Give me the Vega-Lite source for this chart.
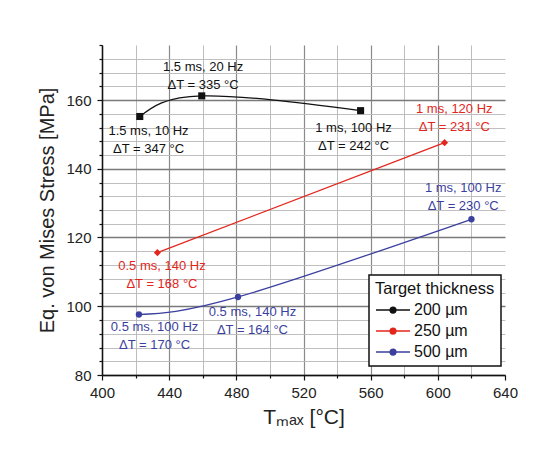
{
  "$schema": "https://vega.github.io/schema/vega-lite/v6.json",
  "autosize": {"type": "none"},
  "padding": {"left": 102, "top": 45, "right": 29, "bottom": 79},
  "width": 403,
  "height": 330,
  "background": "white",
  "config": {
    "font": "Liberation Sans",
    "view": {"stroke": null},
    "legend": {"strokeWidth": 1.5}
  },
  "datasets": {
    "points": [
      {"thickness": "200 µm", "Tmax": 422.5, "stress": 155.2},
      {"thickness": "200 µm", "Tmax": 459.4, "stress": 161.2},
      {"thickness": "200 µm", "Tmax": 554.0, "stress": 156.9},
      {"thickness": "250 µm", "Tmax": 433.0, "stress": 115.6},
      {"thickness": "250 µm", "Tmax": 604.0, "stress": 147.6},
      {"thickness": "500 µm", "Tmax": 422.0, "stress": 97.6},
      {"thickness": "500 µm", "Tmax": 481.0, "stress": 102.7},
      {"thickness": "500 µm", "Tmax": 620.0, "stress": 125.3}
    ],
    "notes": [
      {"thickness": "200 µm", "Tmax": 460.2, "stress": 167.1, "note": "1.5 ms, 20 Hz\nΔT = 335 °C"},
      {"thickness": "200 µm", "Tmax": 427.7, "stress": 148.4, "note": "1.5 ms, 10 Hz\nΔT = 347 °C"},
      {"thickness": "200 µm", "Tmax": 549.8, "stress": 149.2, "note": "1 ms, 100 Hz\nΔT = 242 °C"},
      {"thickness": "250 µm", "Tmax": 609.8, "stress": 154.9, "note": "1 ms, 120 Hz\nΔT = 231 °C"},
      {"thickness": "250 µm", "Tmax": 435.7, "stress": 109.0, "note": "0.5 ms, 140 Hz\nΔT = 168 °C"},
      {"thickness": "500 µm", "Tmax": 615.1, "stress": 131.9, "note": "1 ms, 100 Hz\nΔT = 230 °C"},
      {"thickness": "500 µm", "Tmax": 431.3, "stress": 91.3, "note": "0.5 ms, 100 Hz\nΔT = 170 °C"},
      {"thickness": "500 µm", "Tmax": 489.6, "stress": 95.7, "note": "0.5 ms, 140 Hz\nΔT = 164 °C"}
    ]
  },
  "encoding": {
    "x": {
      "field": "Tmax", "type": "quantitative",
      "scale": {"domain": [400, 640], "nice": false, "zero": false},
      "axis": {
        "title": "Tₘₐₓ [°C]",
        "values": [400, 420, 440, 460, 480, 500, 520, 540, 560, 580, 600, 620, 640],
        "labelExpr": "datum.value % 40 === 0 ? datum.label : ''",
        "grid": true,
        "gridColor": {"condition": {"test": "datum.value % 40 === 0", "value": "#8a8a8a"}, "value": "#b5b5b5"},
        "gridWidth": {"condition": {"test": "datum.value % 40 === 0", "value": 1.2}, "value": 0.9},
        "gridOpacity": {"condition": {"test": "datum.value === 640", "value": 0}, "value": 1},
        "tickSize": {"condition": {"test": "datum.value % 40 === 0", "value": 5}, "value": 3},
        "tickColor": "#111", "tickWidth": 1.2,
        "domainColor": "#111", "domainWidth": 1.5,
        "labelFontSize": 15, "labelColor": "#222", "labelPadding": 5,
        "labelOverlap": false, "labelFlush": false,
        "titleFontSize": 21, "titleFontWeight": "normal", "titleColor": "#222", "titlePadding": 6
      }
    },
    "y": {
      "field": "stress", "type": "quantitative",
      "scale": {"domain": [80, 176], "nice": false, "zero": false},
      "axis": {
        "title": "Eq. von Mises Stress [MPa]",
        "values": [80, 84, 88, 92, 96, 100, 104, 108, 112, 116, 120, 124, 128, 132, 136, 140, 144, 148, 152, 156, 160, 164, 168, 172, 176],
        "labelExpr": "datum.value % 20 === 0 ? datum.label : ''",
        "grid": true,
        "gridColor": {"condition": {"test": "datum.value % 20 === 0", "value": "#7a7a7a"}, "value": "#b8b8b8"},
        "gridWidth": {"condition": {"test": "datum.value % 20 === 0", "value": 1.6}, "value": 0.9},
        "gridOpacity": {"condition": {"test": "datum.value === 176", "value": 0}, "value": 1},
        "tickSize": {"condition": {"test": "datum.value % 20 === 0", "value": 5}, "value": 3},
        "tickColor": "#111", "tickWidth": 1.2,
        "domainColor": "#111", "domainWidth": 1.5,
        "labelFontSize": 15, "labelColor": "#222", "labelPadding": 6,
        "labelOverlap": false, "labelFlush": false,
        "titleFontSize": 20, "titleFontWeight": "normal", "titleColor": "#222", "titlePadding": 8
      }
    },
    "color": {
      "field": "thickness", "type": "nominal",
      "scale": {"domain": ["200 µm", "250 µm", "500 µm"], "range": ["#111111", "#e3261c", "#3b3f9e"]},
      "legend": {
        "title": "Target thickness",
        "orient": "none", "legendX": 267, "legendY": 230,
        "symbolType": "M-1,0L3,0M0.65,0A0.35,0.35,0,1,0,1.35,0A0.35,0.35,0,1,0,0.65,0Z",
        "symbolSize": 289, "symbolStrokeWidth": 1.3,
        "strokeColor": "#111", "fillColor": "white", "padding": 6,
        "titleFontSize": 16.5, "titleFontWeight": "normal", "titleColor": "#111", "titlePadding": 3,
        "labelFontSize": 16, "labelColor": "#111", "rowPadding": 3, "labelOffset": 20
      }
    }
  },
  "layer": [
    {
      "data": {"name": "points"},
      "mark": {"type": "line", "interpolate": "natural", "strokeWidth": 1.3}
    },
    {
      "data": {"name": "points"},
      "transform": [{"filter": "datum.thickness === '200 µm'"}],
      "mark": {"type": "point", "shape": "square", "filled": true, "opacity": 1, "size": 50}
    },
    {
      "data": {"name": "points"},
      "transform": [{"filter": "datum.thickness === '250 µm'"}],
      "mark": {"type": "point", "shape": "diamond", "filled": true, "opacity": 1, "size": 50}
    },
    {
      "data": {"name": "points"},
      "transform": [{"filter": "datum.thickness === '500 µm'"}],
      "mark": {"type": "point", "shape": "circle", "filled": true, "opacity": 1, "size": 40}
    },
    {
      "data": {"name": "notes"},
      "mark": {"type": "text", "lineBreak": "\n", "align": "center", "baseline": "middle", "dy": -9, "fontSize": 13, "lineHeight": 18},
      "encoding": {
        "text": {"field": "note", "type": "nominal"}
      }
    }
  ]
}
